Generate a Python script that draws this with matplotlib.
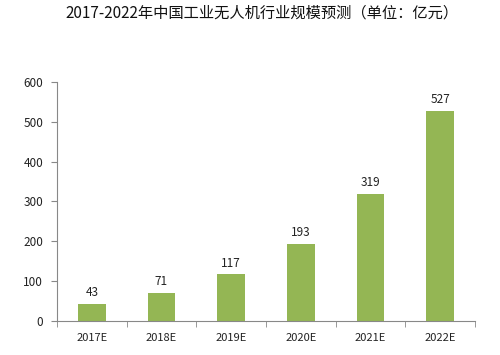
import matplotlib.pyplot as plt
import matplotlib as mpl

mpl.rcParams['font.family'] = ['Noto Sans CJK SC', 'DejaVu Sans']

years = ['2017E', '2018E', '2019E', '2020E', '2021E', '2022E']
values = [43, 71, 117, 193, 319, 527]
yticks = [0, 100, 200, 300, 400, 500, 600]

fig = plt.figure(figsize=(5.0, 3.55), dpi=100)
ax = fig.add_axes([0.114, 0.096, 0.836, 0.673])

x = list(range(len(years)))
ax.bar(x, values, width=0.4, color='#94B654', edgecolor='none', zorder=2)
for xi, v in zip(x, values):
    ax.text(xi, v + 12, str(v), ha='center', va='bottom', fontsize=8.5, color='#222222')

ax.set_xlim(-0.5, len(years) - 0.5)
ax.set_ylim(0, 600)
ax.set_yticks(yticks)
ax.set_yticklabels([str(t) for t in yticks], fontsize=8.5, color='#222222')
ax.set_xticks(x)
ax.set_xticklabels(years, fontsize=8, color='#222222')
ax.tick_params(axis='x', length=0, pad=9)
ax.set_xticks([i - 0.5 for i in range(len(years) + 1)], minor=True)
ax.tick_params(axis='x', which='minor', length=4, direction='out', color='#888888')
ax.tick_params(axis='y', length=4, direction='out', color='#888888', pad=6)

for s in ['top', 'right']:
    ax.spines[s].set_visible(False)
for s in ['left', 'bottom']:
    ax.spines[s].set_color('#888888')
    ax.spines[s].set_linewidth(0.8)

fig.text(0.525, 0.962, '2017-2022年中国工业无人机行业规模预测（单位：亿元）',
         ha='center', va='center', fontsize=11, color='#111111')

fig.savefig('out.png', dpi=100)
